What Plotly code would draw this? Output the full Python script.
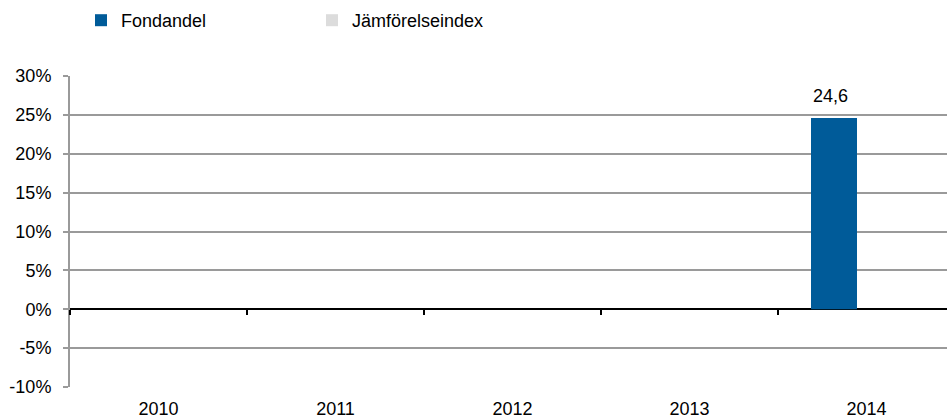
import plotly.graph_objects as go

years = ["2010", "2011", "2012", "2013", "2014"]
fondandel = [None, None, None, None, 24.6]
jamforelseindex = [None, None, None, None, None]
y_ticks = [-10, -5, 0, 5, 10, 15, 20, 25, 30]
y_tick_labels = ["-10%", "-5%", "0%", "5%", "10%", "15%", "20%", "25%", "30%"]

FONT = "Liberation Sans, Arial, sans-serif"
FS = 18
W, H = 947, 418
ML, MR, MT, MB = 70, 0, 76, 31
cat_px = 177.0
plot_w = W - ML - MR
x_range = [-0.5, -0.5 + plot_w / cat_px]
bar_w = 46 / cat_px
bar_off = -55.5 / cat_px

fig = go.Figure()
fig.add_trace(go.Bar(
    name="Fondandel", x=years, y=fondandel,
    marker=dict(color="#005b99", line=dict(width=0)),
    width=bar_w, offset=bar_off,
))
fig.add_trace(go.Bar(
    name="Jämförelseindex", x=years, y=jamforelseindex,
    marker=dict(color="#dcdcdc", line=dict(width=0)),
    width=bar_w, offset=bar_off + bar_w,
))
# invisible helper trace on second x axis (ticks on zero line)
fig.add_trace(go.Scatter(x=years, y=[0] * len(years), xaxis="x2", mode="none",
                         showlegend=False, hoverinfo="skip"))

for i, v in enumerate(fondandel):
    if v is not None:
        fig.add_annotation(
            x=i + bar_off + bar_w / 2, y=v, xref="x", yref="y",
            text=f"{v:.1f}".replace(".", ","), showarrow=False,
            xshift=-4, yshift=22,
            font=dict(family=FONT, size=FS, color="#000"),
        )

fig.update_layout(
    width=W, height=H,
    margin=dict(l=ML, r=MR, t=MT, b=MB, pad=0),
    paper_bgcolor="white", plot_bgcolor="white",
    font=dict(family=FONT, size=FS, color="#000"),
    barmode="group",
    showlegend=True,
    legend=dict(
        orientation="h", xref="container", yref="container",
        x=81 / W, y=1 - 2 / H, xanchor="left", yanchor="top",
        entrywidth=186, entrywidthmode="pixels",
        font=dict(family=FONT, size=FS, color="#000"),
        itemwidth=30, tracegroupgap=0,
        bgcolor="rgba(0,0,0,0)",
    ),
    xaxis=dict(
        type="category", categoryorder="array", categoryarray=years,
        range=x_range, showgrid=False, zeroline=False, showline=False,
        ticks="", tickfont=dict(family=FONT, size=FS, color="#000"),
        ticklabelstandoff=9,
    ),
    xaxis2=dict(
        type="category", categoryorder="array", categoryarray=years,
        range=x_range, overlaying="x", anchor="free", position=0.25,
        side="bottom", showgrid=False, zeroline=False, showline=False,
        showticklabels=False, ticks="outside", tickson="boundaries",
        ticklen=5, tickwidth=2, tickcolor="#000",
    ),
    yaxis=dict(
        range=[-10, 30], tickvals=y_ticks, ticktext=y_tick_labels,
        showgrid=True, gridcolor="#9a9a9a", gridwidth=1.5,
        zeroline=True, zerolinecolor="#000", zerolinewidth=2,
        showline=True, linecolor="#9a9a9a", linewidth=2,
        ticks="outside", ticklen=5, tickcolor="#9a9a9a", tickwidth=1.5,
        tickfont=dict(family=FONT, size=FS, color="#000"),
        ticklabelstandoff=8,
    ),
)

fig.write_html("out.html")
